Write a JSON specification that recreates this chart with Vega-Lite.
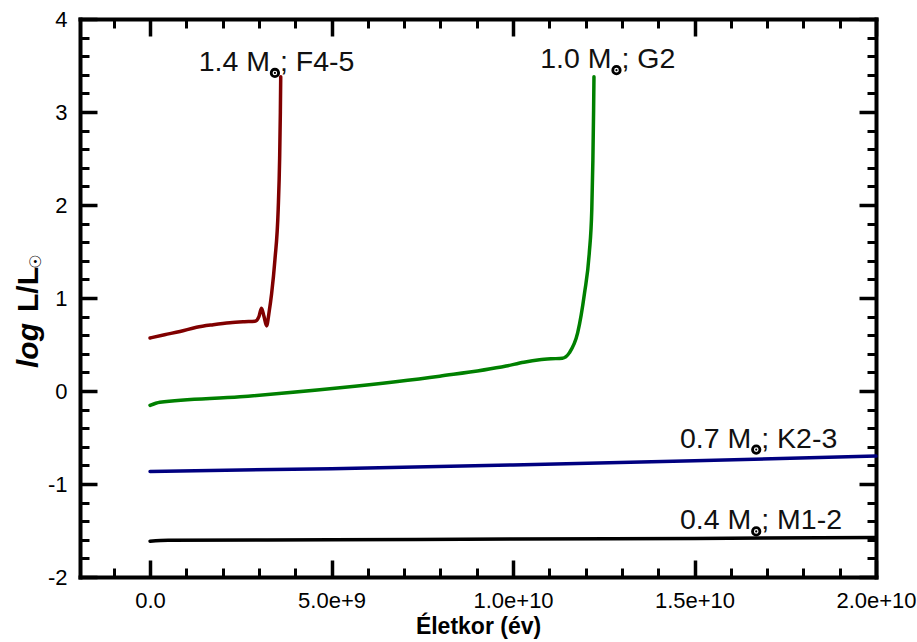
{
  "$schema": "https://vega.github.io/schema/vega-lite/v6.json",
  "autosize": {"type": "none"},
  "padding": {"left": 80, "top": 19, "right": 41, "bottom": 65},
  "width": 796,
  "height": 558,
  "background": "white",
  "config": {
    "view": {"stroke": null},
    "axis": {"grid": false, "labelFlush": false, "labelOverlap": false, "tickColor": "black", "domainColor": "black", "labelColor": "black", "titleColor": "black", "tickCap": "butt", "domainCap": "square"}
  },
  "datasets": {
    "tracks": [
      {"m": "1.4", "i": 0, "age": 0, "logL": 0.57},
      {"m": "1.4", "i": 1, "age": 400000000, "logL": 0.605},
      {"m": "1.4", "i": 2, "age": 825000000, "logL": 0.64},
      {"m": "1.4", "i": 3, "age": 1280000000, "logL": 0.685},
      {"m": "1.4", "i": 4, "age": 1740000000, "logL": 0.713},
      {"m": "1.4", "i": 5, "age": 2200000000, "logL": 0.735},
      {"m": "1.4", "i": 6, "age": 2600000000, "logL": 0.745},
      {"m": "1.4", "i": 7, "age": 2890000000, "logL": 0.75},
      {"m": "1.4", "i": 8, "age": 3000000000, "logL": 0.8},
      {"m": "1.4", "i": 9, "age": 3070000000, "logL": 0.89},
      {"m": "1.4", "i": 10, "age": 3140000000, "logL": 0.8},
      {"m": "1.4", "i": 11, "age": 3210000000, "logL": 0.7},
      {"m": "1.4", "i": 12, "age": 3280000000, "logL": 0.85},
      {"m": "1.4", "i": 13, "age": 3350000000, "logL": 1.05},
      {"m": "1.4", "i": 14, "age": 3440000000, "logL": 1.41},
      {"m": "1.4", "i": 15, "age": 3530000000, "logL": 1.95},
      {"m": "1.4", "i": 16, "age": 3570000000, "logL": 2.5},
      {"m": "1.4", "i": 17, "age": 3590000000, "logL": 3.0},
      {"m": "1.4", "i": 18, "age": 3600000000, "logL": 3.38},
      {"m": "1.0", "i": 0, "age": 0, "logL": -0.155},
      {"m": "1.0", "i": 1, "age": 270000000, "logL": -0.12},
      {"m": "1.0", "i": 2, "age": 2480000000, "logL": -0.062},
      {"m": "1.0", "i": 3, "age": 5230000000, "logL": 0.034},
      {"m": "1.0", "i": 4, "age": 7980000000, "logL": 0.159},
      {"m": "1.0", "i": 5, "age": 9810000000, "logL": 0.268},
      {"m": "1.0", "i": 6, "age": 10300000000, "logL": 0.31},
      {"m": "1.0", "i": 7, "age": 10730000000, "logL": 0.336},
      {"m": "1.0", "i": 8, "age": 11050000000, "logL": 0.346},
      {"m": "1.0", "i": 9, "age": 11360000000, "logL": 0.352},
      {"m": "1.0", "i": 10, "age": 11550000000, "logL": 0.41},
      {"m": "1.0", "i": 11, "age": 11780000000, "logL": 0.624},
      {"m": "1.0", "i": 12, "age": 11970000000, "logL": 1.053},
      {"m": "1.0", "i": 13, "age": 12100000000, "logL": 1.48},
      {"m": "1.0", "i": 14, "age": 12170000000, "logL": 1.95},
      {"m": "1.0", "i": 15, "age": 12200000000, "logL": 2.48},
      {"m": "1.0", "i": 16, "age": 12220000000, "logL": 3.02},
      {"m": "1.0", "i": 17, "age": 12230000000, "logL": 3.38},
      {"m": "0.7", "i": 0, "age": 0, "logL": -0.865},
      {"m": "0.7", "i": 1, "age": 5000000000, "logL": -0.835},
      {"m": "0.7", "i": 2, "age": 10000000000, "logL": -0.795},
      {"m": "0.7", "i": 3, "age": 15000000000, "logL": -0.75},
      {"m": "0.7", "i": 4, "age": 20000000000, "logL": -0.7},
      {"m": "0.4", "i": 0, "age": 0, "logL": -1.615},
      {"m": "0.4", "i": 1, "age": 500000000, "logL": -1.605},
      {"m": "0.4", "i": 2, "age": 5000000000, "logL": -1.6},
      {"m": "0.4", "i": 3, "age": 10000000000, "logL": -1.592},
      {"m": "0.4", "i": 4, "age": 15000000000, "logL": -1.585},
      {"m": "0.4", "i": 5, "age": 20000000000, "logL": -1.575}
    ],
    "labels": [
      {"m": "1.4", "sx": 3440000000, "sy": 3.42, "pre": "1.4 M", "post": "; F4-5"},
      {"m": "1.0", "sx": 12850000000, "sy": 3.45, "pre": "1.0 M", "post": "; G2"},
      {"m": "0.7", "sx": 16700000000, "sy": -0.63, "pre": "0.7 M", "post": "; K2-3"},
      {"m": "0.4", "sx": 16700000000, "sy": -1.51, "pre": "0.4 M", "post": "; M1-2"}
    ]
  },
  "resolve": {"axis": {"x": "independent", "y": "independent"}},
  "layer": [
    {
      "data": {"name": "tracks"},
      "mark": {"type": "line", "strokeWidth": 3.5, "strokeJoin": "round", "strokeCap": "round", "interpolate": "monotone"},
      "encoding": {
        "x": {"field": "age", "type": "quantitative",
          "scale": {"domain": [-1930000000, 20000000000], "nice": false, "zero": false},
          "axis": {"orient": "bottom", "values": [0, 5000000000, 10000000000, 15000000000, 20000000000],
            "tickSize": -17, "tickWidth": 3.5, "domainWidth": 4,
            "labelFont": "Liberation Sans", "labelFontSize": 22, "labelPadding": 30,
            "labelExpr": "datum.value == 0 ? '0.0' : format(datum.value, '.1e')",
            "title": "Életkor (év)", "titleFont": "Liberation Sans", "titleFontSize": 23, "titleFontWeight": "bold", "titlePadding": 4}},
        "y": {"field": "logL", "type": "quantitative",
          "scale": {"domain": [-2, 4], "nice": false, "zero": false},
          "axis": {"orient": "left", "values": [-2, -1, 0, 1, 2, 3, 4],
            "tickSize": -17, "tickWidth": 3.5, "domainWidth": 4,
            "labelFont": "Liberation Sans", "labelFontSize": 22, "labelPadding": 30,
            "labelExpr": "datum.value + ''",
            "title": "log", "titleFont": "Liberation Sans", "titleFontSize": 30, "titleFontWeight": "bold", "titleFontStyle": "italic",
            "titleAngle": 270, "titleAlign": "center", "titleBaseline": "alphabetic", "titleX": -43, "titleY": 326}},
        "color": {"field": "m", "type": "nominal", "legend": null,
          "scale": {"domain": ["1.4", "1.0", "0.7", "0.4"], "range": ["#800000", "#008000", "#000080", "#000000"]}},
        "order": {"field": "i", "type": "quantitative"}
      }
    },
    {
      "data": {"name": "labels"},
      "mark": {"type": "point", "shape": "circle", "size": 55, "fill": "white", "stroke": "black", "strokeWidth": 2.8, "opacity": 1},
      "encoding": {
        "x": {"field": "sx", "type": "quantitative",
          "scale": {"domain": [-1930000000, 20000000000], "nice": false, "zero": false},
          "axis": {"orient": "bottom", "values": [-1000000000, 1000000000, 2000000000, 3000000000, 4000000000, 6000000000, 7000000000, 8000000000, 9000000000, 11000000000, 12000000000, 13000000000, 14000000000, 16000000000, 17000000000, 18000000000, 19000000000],
            "tickSize": -9, "tickWidth": 3, "domain": false, "labels": false, "title": null}},
        "y": {"field": "sy", "type": "quantitative",
          "scale": {"domain": [-2, 4], "nice": false, "zero": false},
          "axis": {"orient": "left", "values": [-1.8, -1.6, -1.4, -1.2, -0.8, -0.6, -0.4, -0.2, 0.2, 0.4, 0.6, 0.8, 1.2, 1.4, 1.6, 1.8, 2.2, 2.4, 2.6, 2.8, 3.2, 3.4, 3.6, 3.8],
            "tickSize": -9, "tickWidth": 3, "domain": false, "labels": false,
            "title": "L/L", "titleFont": "Liberation Sans", "titleFontSize": 30, "titleFontWeight": "bold",
            "titleAngle": 270, "titleAlign": "center", "titleBaseline": "alphabetic", "titleX": -43, "titleY": 270}}
      }
    },
    {
      "data": {"name": "labels"},
      "mark": {"type": "point", "shape": "circle", "size": 5, "fill": "black", "strokeWidth": 0, "opacity": 1},
      "encoding": {
        "x": {"field": "sx", "type": "quantitative",
          "scale": {"domain": [-1930000000, 20000000000], "nice": false, "zero": false},
          "axis": {"orient": "top", "values": [0, 5000000000, 10000000000, 15000000000, 20000000000],
            "tickSize": -17, "tickWidth": 3.5, "domainWidth": 4, "labels": false, "title": null}},
        "y": {"field": "sy", "type": "quantitative",
          "scale": {"domain": [-2, 4], "nice": false, "zero": false},
          "axis": {"orient": "right", "values": [-2, -1, 0, 1, 2, 3, 4],
            "tickSize": -17, "tickWidth": 3.5, "domainWidth": 4, "labels": false, "title": null}}
      }
    },
    {
      "data": {"name": "labels"},
      "mark": {"type": "text", "font": "Liberation Sans", "fontSize": 28.5, "align": "right", "baseline": "alphabetic", "dx": -5, "dy": -2, "color": "#111111"},
      "encoding": {
        "x": {"field": "sx", "type": "quantitative",
          "scale": {"domain": [-1930000000, 20000000000], "nice": false, "zero": false},
          "axis": {"orient": "top", "values": [-1000000000, 1000000000, 2000000000, 3000000000, 4000000000, 6000000000, 7000000000, 8000000000, 9000000000, 11000000000, 12000000000, 13000000000, 14000000000, 16000000000, 17000000000, 18000000000, 19000000000],
            "tickSize": -9, "tickWidth": 3, "domain": false, "labels": false, "title": null}},
        "y": {"field": "sy", "type": "quantitative",
          "scale": {"domain": [-2, 4], "nice": false, "zero": false},
          "axis": {"orient": "right", "values": [-1.8, -1.6, -1.4, -1.2, -0.8, -0.6, -0.4, -0.2, 0.2, 0.4, 0.6, 0.8, 1.2, 1.4, 1.6, 1.8, 2.2, 2.4, 2.6, 2.8, 3.2, 3.4, 3.6, 3.8],
            "tickSize": -9, "tickWidth": 3, "domain": false, "labels": false, "title": null}},
        "text": {"field": "pre"}
      }
    },
    {
      "data": {"name": "labels"},
      "mark": {"type": "text", "font": "Liberation Sans", "fontSize": 28.5, "align": "left", "baseline": "alphabetic", "dx": 5, "dy": -2, "color": "#111111"},
      "encoding": {
        "x": {"field": "sx", "type": "quantitative",
          "scale": {"domain": [-1930000000, 20000000000], "nice": false, "zero": false},
          "axis": null},
        "y": {"field": "sy", "type": "quantitative",
          "scale": {"domain": [-2, 4], "nice": false, "zero": false},
          "axis": {"orient": "left", "domain": false, "ticks": false, "labels": false,
            "title": "☉", "titleFont": "DejaVu Sans", "titleFontSize": 16, "titleFontWeight": "bold",
            "titleAngle": 270, "titleAlign": "center", "titleBaseline": "middle", "titleX": -45, "titleY": 242}},
        "text": {"field": "post"}
      }
    }
  ]
}
